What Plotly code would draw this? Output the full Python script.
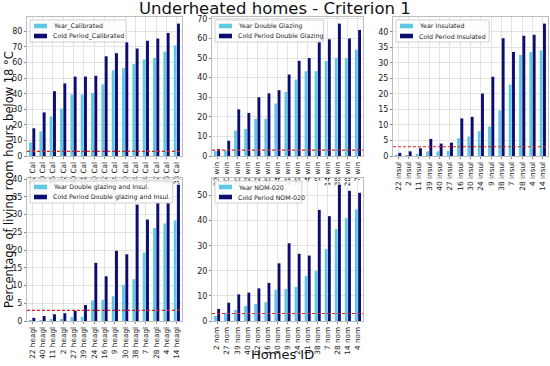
import plotly.graph_objects as go

# ---------------- data ----------------
cal_ids = ["27 Cal", "30 Cal", "16 Cal", "2 Cal", "40 Cal", "11 Cal", "39 Cal", "22 Cal",
           "24 Cal", "9 Cal", "4 Cal", "14 Cal", "7 Cal", "28 Cal", "38 Cal"]
cal_year = [8.7, 15.8, 25.4, 30.4, 39.5, 39.5, 40.5, 46.0, 55.0, 56.4, 59.0, 62.0, 63.0, 67.0, 71.0]
cal_cold = [17.8, 28.0, 41.6, 46.6, 51.0, 51.0, 51.5, 64.0, 66.0, 73.0, 69.0, 74.0, 75.4, 79.0, 85.0]

win_ids = ["27 win", "40 win", "30 win", "2 win", "22 win", "16 win", "24 win", "11 win",
           "39 win", "4 win", "9 win", "14 win", "38 win", "28 win", "7 win"]
win_year = [2.5, 3.0, 13.0, 13.8, 19.0, 19.0, 26.8, 32.7, 39.0, 43.3, 43.3, 48.5, 50.0, 50.0, 54.3]
win_cold = [3.5, 7.8, 23.8, 22.0, 30.0, 32.0, 33.6, 41.6, 48.6, 50.0, 59.0, 59.6, 67.6, 60.0, 64.4]

ins_ids = ["22 insul", "2 insul", "11 insul", "39 insul", "40 insul", "27 insul", "16 insul", "30 insul",
           "24 insul", "9 insul", "38 insul", "7 insul", "28 insul", "4 insul", "14 insul"]
ins_year = [0.2, 0.3, 0.7, 1.5, 1.5, 1.7, 5.7, 6.3, 8.0, 9.5, 14.7, 23.0, 32.5, 33.5, 34.0]
ins_cold = [1.0, 1.5, 2.5, 5.5, 4.0, 4.3, 12.1, 12.6, 20.1, 25.5, 37.9, 33.5, 38.7, 39.0, 42.6]

hea_ids = ["22 heagl", "40 heagl", "11 heagl", "2 heagl", "27 heagl", "39 heagl", "24 heagl", "16 heagl",
           "9 heagl", "30 heagl", "38 heagl", "7 heagl", "28 heagl", "4 heagl", "14 heagl"]
hea_year = [0.1, 0.2, 0.4, 0.6, 1.1, 1.2, 5.8, 6.0, 7.0, 10.2, 11.8, 19.3, 26.2, 27.5, 28.4]
hea_cold = [0.9, 1.4, 1.9, 2.2, 2.9, 4.5, 16.4, 12.6, 19.8, 18.8, 32.8, 28.6, 33.5, 33.5, 38.4]

nom_ids = ["2 nom", "27 nom", "39 nom", "40 nom", "22 nom", "16 nom", "30 nom", "9 nom",
           "24 nom", "11 nom", "38 nom", "7 nom", "28 nom", "14 nom", "4 nom"]
nom_year = [2.0, 3.3, 4.4, 6.0, 6.8, 7.5, 12.5, 12.8, 13.6, 18.0, 20.0, 28.7, 36.7, 41.0, 44.5]
nom_cold = [4.8, 7.3, 10.6, 11.3, 13.0, 15.2, 23.0, 31.0, 26.8, 26.1, 44.3, 41.8, 54.3, 51.9, 51.1]

threshold = 3

panels = [
    (cal_ids, cal_year, cal_cold, "Year_Calibrated", "Cold Period_Calibrated", list(range(0, 81, 10))),
    (win_ids, win_year, win_cold, "Year Double Glazing", "Cold Period Double Glazing", list(range(0, 71, 10))),
    (ins_ids, ins_year, ins_cold, "Year Insulated", "Cold Period Insulated", list(range(0, 41, 5))),
    (hea_ids, hea_year, hea_cold, "Year Double glazing and Insul.", "Cold Period Double glazing and Insul.", list(range(0, 41, 5))),
    (nom_ids, nom_year, nom_cold, "Year NOM-020", "Cold Period NOM-020", list(range(0, 51, 10))),
]

# ---------------- layout geometry ----------------
W, H = 550, 366
cols_px = [(27, 182), (212, 363), (393, 548)]
rows_px = [(17, 156), (178, 321)]
positions = [(0, 0), (0, 1), (0, 2), (1, 0), (1, 1)]

YEAR_C = "#5ec8e5"
COLD_C = "#0c0c72"
GRID_C = "#e3e3e3"
AX_C = "#bdbdbd"
FONT = "DejaVu Sans"
LEG_FS = 6.3

def px_x(p):
    return p / W

def px_y(p):
    return 1 - p / H

fig = go.Figure()
layout = dict(
    template="none",
    width=W, height=H,
    margin=dict(l=0, r=0, t=0, b=0, pad=0),
    paper_bgcolor="white", plot_bgcolor="white",
    barmode="group", bargap=0.36, bargroupgap=0.12,
    font=dict(family=FONT, size=8, color="#222"),
    showlegend=False,
)
shapes = []
annotations = []
for i, (ids, yr, cd, n1, n2, ticks) in enumerate(panels):
    r, c = positions[i]
    k = "" if i == 0 else str(i + 1)
    xa, ya = "x" + k, "y" + k
    cx0, cx1 = cols_px[c]
    ry0, ry1 = rows_px[r]
    fig.add_trace(go.Bar(x=ids, y=yr, name=n1, marker=dict(color=YEAR_C, line=dict(width=0)),
                         xaxis=xa, yaxis=ya))
    fig.add_trace(go.Bar(x=ids, y=cd, name=n2, marker=dict(color=COLD_C, line=dict(width=0)),
                         xaxis=xa, yaxis=ya))
    ymax = max(max(yr), max(cd)) * 1.05
    layout["xaxis" + k] = dict(
        domain=[px_x(cx0), px_x(cx1)], anchor=ya, type="category", tickangle=-90,
        tickfont=dict(size=7.3, family=FONT, color="#222"), automargin=False,
        showgrid=True, gridcolor=GRID_C, gridwidth=1,
        showline=True, linecolor=AX_C, mirror=True, linewidth=1,
        ticks="outside", ticklen=2, tickcolor="#888",
    )
    layout["yaxis" + k] = dict(
        domain=[px_y(ry1), px_y(ry0)], anchor=xa, range=[0, ymax], tickvals=ticks,
        tickfont=dict(size=8, family=FONT, color="#222"), automargin=False,
        showgrid=True, gridcolor=GRID_C, gridwidth=1, zeroline=False,
        showline=True, linecolor=AX_C, mirror=True, linewidth=1,
        ticks="outside", ticklen=2, tickcolor="#888",
    )
    shapes.append(dict(type="line", xref=xa + " domain", yref=ya, x0=0, x1=1,
                       y0=threshold, y1=threshold,
                       line=dict(color="#e02020", width=1.1, dash="3px,2px")))
    # legend box drawn in paper pixels
    lx0, ly0 = cx0 + 3, ry0 + 3
    lw = 28 + 3.1 * max(len(n1), len(n2))
    shapes.append(dict(type="rect", xref="paper", yref="paper",
                       x0=px_x(lx0), x1=px_x(lx0 + lw), y0=px_y(ly0 + 22), y1=px_y(ly0),
                       fillcolor="rgba(255,255,255,0.85)", line=dict(color="#d0d0d0", width=1),
                       layer="above"))
    for j, (nm, col) in enumerate([(n1, YEAR_C), (n2, COLD_C)]):
        cy = ly0 + 6 + j * 10
        shapes.append(dict(type="rect", xref="paper", yref="paper",
                           x0=px_x(lx0 + 4), x1=px_x(lx0 + 17), y0=px_y(cy + 2.3), y1=px_y(cy - 2.3),
                           fillcolor=col, line=dict(width=0), layer="above"))
        annotations.append(dict(text=nm, x=px_x(lx0 + 21), y=px_y(cy), xref="paper", yref="paper",
                                showarrow=False, xanchor="left", yanchor="middle",
                                font=dict(size=LEG_FS, family=FONT, color="#222")))

annotations += [
    dict(text="Underheated homes - Criterion 1", x=0.5, y=px_y(8), xref="paper", yref="paper",
         showarrow=False, font=dict(size=16.5, family=FONT, color="#111"), xanchor="center", yanchor="middle"),
    dict(text="Percentage of living room hours below 18 °C", x=px_x(9), y=px_y(180), xref="paper",
         yref="paper", showarrow=False, textangle=-90, font=dict(size=11.5, family=FONT, color="#111"),
         xanchor="center", yanchor="middle"),
    dict(text="Homes ID", x=px_x(282), y=px_y(354), xref="paper", yref="paper", showarrow=False,
         font=dict(size=13, family=FONT, color="#111"), xanchor="center", yanchor="middle"),
]
layout["shapes"] = shapes
layout["annotations"] = annotations
fig.update_layout(**layout)
fig.write_html("out.html", config={"displayModeBar": False},
               post_script="document.body.style.margin='0';document.body.style.overflow='hidden';")
